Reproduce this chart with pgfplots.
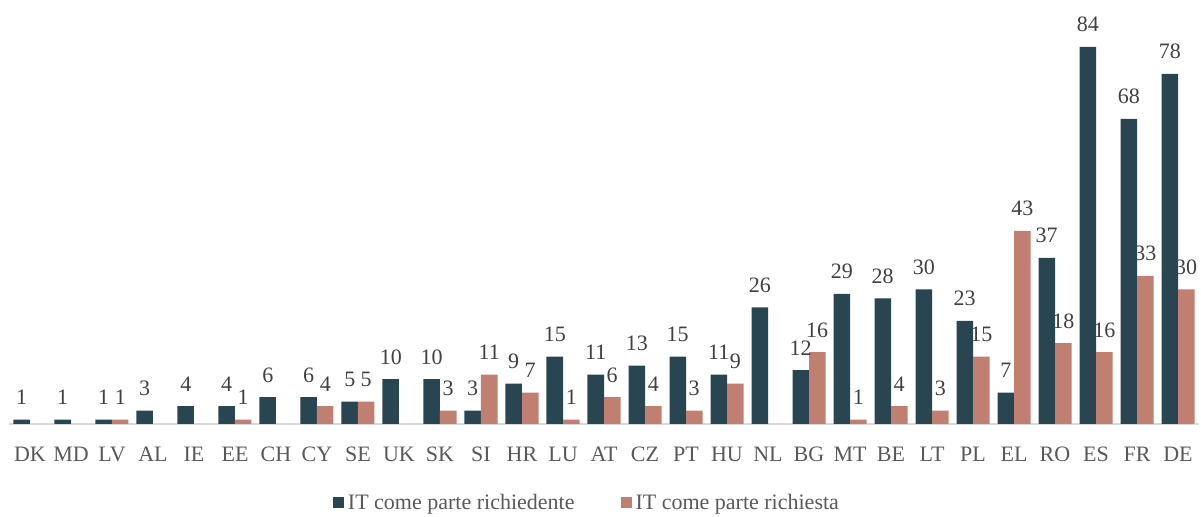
\documentclass[border=0pt]{standalone}
\usepackage{fontspec}
\setmainfont{Liberation Serif}
\usepackage{pgfplots}
\pgfplotsset{compat=1.18}
\definecolor{cdark}{HTML}{2A4552}
\definecolor{csalmon}{HTML}{C17F72}
\definecolor{ctext}{HTML}{595959}
\definecolor{clab}{HTML}{404040}
\definecolor{cline}{HTML}{D9D9D9}
\begin{document}
\begin{tikzpicture}
\path[use as bounding box] (0,0) rectangle (600.5pt,258.5pt);
\begin{axis}[
  at={(4.75pt,46.5pt)}, anchor=south west,
  scale only axis, width=594.5pt, height=212pt,
  xmin=-0.5, xmax=28.5, ymin=0, ymax=94.47,
  ybar=0pt, bar width=8.25pt,
  axis x line*=bottom, axis y line=none,
  x axis line style={draw=cline, line width=0.8pt, -},
  major tick length=0pt,
  xtick={0,...,28},
  xticklabels={DK,MD,LV,AL,IE,EE,CH,CY,SE,UK,SK,SI,HR,LU,AT,CZ,PT,HU,NL,BG,MT,BE,LT,PL,EL,RO,ES,FR,DE},
  xticklabel style={font=\fontsize{11}{13}\selectfont, text=ctext, anchor=base, yshift=-19pt},
  clip=false,
  /pgf/number format/assume math mode=true,
  nodes near coords,
  every node near coord/.append style={font=\fontsize{11}{13}\selectfont, text=clab, anchor=base, inner sep=0pt, yshift=7.5pt},
  legend columns=2,
  legend style={draw=none, fill=none, at={(0.4865,0)}, anchor=center, yshift=-39.5pt,
    font=\fontsize{11}{13}\selectfont, text=ctext,
    /tikz/every even column/.append style={column sep=21pt}},
  legend image code/.code={\fill[#1] (0pt,-2.75pt) rectangle (5.5pt,2.75pt);},
]
\addplot[fill=cdark, draw=none] coordinates {(0,1)(1,1)(2,1)(3,3)(4,4)(5,4)(6,6)(7,6)(8,5)(9,10)(10,10)(11,3)(12,9)(13,15)(14,11)(15,13)(16,15)(17,11)(18,26)(19,12)(20,29)(21,28)(22,30)(23,23)(24,7)(25,37)(26,84)(27,68)(28,78)};
\addplot[fill=csalmon, draw=none] coordinates {(2,1)(5,1)(7,4)(8,5)(10,3)(11,11)(12,7)(13,1)(14,6)(15,4)(16,3)(17,9)(19,16)(20,1)(21,4)(22,3)(23,15)(24,43)(25,18)(26,16)(27,33)(28,30)};
\legend{IT come parte richiedente, IT come parte richiesta}
\end{axis}
\end{tikzpicture}
\end{document}
